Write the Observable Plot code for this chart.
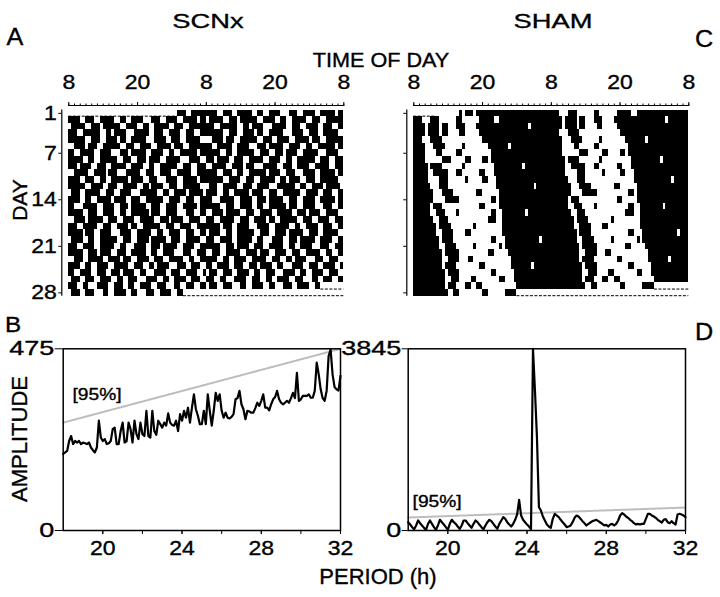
<!DOCTYPE html>
<html>
<head>
<meta charset="utf-8">
<script src="https://cdn.jsdelivr.net/npm/d3@7"></script>
<script src="https://cdn.jsdelivr.net/npm/@observablehq/plot@0.6"></script>
<style>
html,body{margin:0;padding:0;background:#fff;}
#fig{position:relative;width:720px;height:597px;overflow:hidden;font-family:"Liberation Sans",Arial,Helvetica,sans-serif;color:#000;background:#fff;}
#fig svg{position:absolute;left:0;top:0;}
#fig svg text{stroke:#000;stroke-width:0.35px;}
.lbl{position:absolute;white-space:nowrap;line-height:1;transform-origin:center center;-webkit-text-stroke:0.35px #000;}
</style>
</head>
<body>
<div id="fig"></div>
<script>
// ---------------- DATA ----------------
// Actogram tick labels (time of day, double plotted 48 h) and day labels
const timeTickHours = [0, 12, 24, 36, 48];
const timeTickLabels = ["8", "20", "8", "20", "8"];
const rulerHours = d3.range(0, 49, 1);
const dayTicks = [1, 7, 14, 21, 28];

// SCNx activity per day from 08:00, run lengths in half-hour bins:
// B = active, W = rest, N = no recording
const scnxRuns = [
  "N38 B3 W2 B5",
  "B4 W2 B3 W2 B5 W2 B2 W2 B4 W3 B3 W2 B4 W2 B5 W1 B2",
  "W1 B5 W2 B3 W1 B6 W2 B4 W2 B2 W2 B5 W2 B3 W2 B6",
  "B3 W2 B6 W2 B2 W1 B4 W3 B5 W2 B3 W2 B4 W2 B3 W2 B2",
  "B6 W2 B3 W2 B4 W1 B2 W2 B5 W3 B4 W2 B3 W2 B5 W2",
  "W2 B4 W1 B3 W2 B6 W2 B3 W2 B4 W2 B5 W1 B3 W2 B6",
  "B2 W2 B5 W2 B4 W3 B3 W1 B5 W2 B4 W2 B2 W2 B6 W1 B2",
  "B5 W2 B2 W2 B6 W2 B3 W2 B3 W1 B4 W2 B5 W3 B4 W2",
  "B3 W1 B4 W2 B3 W2 B5 W2 B4 W2 B2 W2 B6 W2 B3 W2 B3",
  "W2 B5 W2 B4 W1 B3 W3 B5 W2 B3 W2 B4 W2 B5 W2 B3",
  "B4 W2 B3 W2 B2 W2 B6 W1 B4 W2 B3 W3 B4 W2 B5 W1 B2",
  "B6 W2 B4 W2 B3 W2 B5 W2 B2 W1 B4 W2 B3 W2 B6 W2",
  "W1 B3 W2 B5 W2 B3 W2 B4 W3 B6 W2 B2 W2 B4 W1 B5 W1",
  "B4 W2 B2 W2 B5 W1 B4 W2 B3 W2 B6 W2 B4 W2 B3 W2 B2",
  "B2 W3 B5 W2 B4 W2 B3 W1 B5 W2 B3 W2 B4 W2 B5 W1 B2",
  "B5 W2 B3 W2 B4 W2 B2 W2 B6 W1 B3 W2 B4 W3 B3 W2 B2",
  "W2 B4 W1 B5 W2 B3 W2 B4 W2 B5 W2 B3 W1 B4 W2 B4 W2",
  "B3 W2 B5 W2 B3 W2 B4 W1 B2 W2 B6 W2 B3 W2 B4 W2 B3",
  "B5 W1 B3 W2 B4 W3 B4 W2 B5 W2 B2 W2 B4 W2 B3 W2 B2",
  "W1 B4 W2 B2 W2 B6 W2 B3 W2 B4 W1 B5 W2 B3 W2 B5 W2",
  "B3 W2 B4 W2 B5 W2 B2 W3 B4 W2 B3 W1 B5 W2 B4 W2 B2",
  "B5 W2 B3 W1 B4 W2 B3 W2 B5 W2 B2 W2 B4 W3 B3 W2 B3",
  "W2 B3 W2 B5 W2 B4 W1 B3 W2 B4 W2 B3 W2 B5 W2 B2 W2 B2",
  "B4 W2 B2 W2 B4 W2 B5 W2 B3 W2 B2 W1 B4 W3 B3 W2 B3 W2",
  "B2 W2 B4 W2 B3 W2 B3 W1 B4 W2 B2 W3 B4 W2 B3 W2 B4 W2 B1",
  "W1 B3 W2 B3 W2 B4 W2 B2 W2 B3 W3 B4 W2 B2 W2 B4 W2 B3 W2",
  "B3 W2 B2 W3 B4 W2 B3 W2 B2 W2 B4 W2 B3 W3 B2 W2 B3 W2 B2",
  "W1 B3 W2 B3 W3 B2 W2 B4 W2 B2 W3 B3 W2 B4 W2 B2 N8"
];

// SHAM activity per day, 48 half-hour bins from 08:00. '#' active, '.' rest, '-' no recording
const shamDays = [
  "--------" + "........" + "#.###.##" + "########" + "########" + "########",
  "###...##" + "#......#" + "#......#" + "####..##" + "########" + "########",
  "####.###" + "#.##...#" + "##....##" + "########" + "########" + ".#######",
  "####.###" + "#.##...." + "##.....#" + "########" + "########" + "########",
  "###...##" + "##......" + "........" + "########" + "########" + "########",
  "####...#" + "###....." + ".#......" + "..######" + "#.######" + "########",
  "####...." + "##.....#" + "#......." + "...#####" + "########" + "########",
  "####...." + "..###..." + "..##...." + "##.#####" + "########" + "########",
  "#####.##" + "##......" + ".#......" + "....####" + "######.#" + "########",
  "#####..#" + "####...#" + "#......#" + "#...####" + "########" + "########",
  "#####..." + ".###...." + "..#....." + "##...###" + "########" + "########",
  "######.." + ".###...." + "........" + ".....###" + "########" + "##.#####",
  "#######." + "..####.." + "......##" + "......##" + "########" + "########",
  "#######." + "...#####" + "........" + "...##.##" + "########" + "########",
  "######.#" + "##......" + ".......#" + "#.....##" + "########" + "########",
  "######.." + "###....#" + "........" + "...##..#" + "#######." + "########",
  "#######." + ".###...." + "........" + "..###..#" + "########" + "########",
  "########" + ".####..." + ".....#.." + ".......#" + "########" + "########",
  "########" + "..####.." + "..##...." + ".......#" + "########" + "########",
  "########" + "#.####.." + "........" + "...##..." + "########" + "####.###",
  "########" + "#..####." + ".....#.." + "......#." + "########" + "########",
  "########" + "##.#####" + "........" + "..##...." + ".#######" + "########",
  "########" + "##..####" + "...##..." + "........" + "..######" + "########",
  "########" + "##.####." + ".......#" + "#......." + "..######" + "#.######",
  "########" + "###.####" + "........" + "...##..." + "...#####" + "########",
  "########" + "###..###" + "....##.." + "......##" + "...#####" + "########",
  "########" + "###.###." + "..##..##" + "........" + "....####" + "########",
  "########" + "####..##" + "........" + "##......" + "####----" + "--------"
];
const binHours = 0.5;

// Periodograms: amplitude sampled every 0.1 h from 18 h to 32 h
const periodStart = 18, periodStep = 0.1;
const periodTicks = [20, 24, 28, 32];
const periodMinorTicks = [20, 22, 24, 26, 28, 30, 32];
const scnxAmplitude = [
  200,204,208,234,247,226,234,230,234,226,
  230,228,226,230,217,210,204,217,287,243,
  234,239,226,228,234,265,269,226,226,260,
  282,230,233,282,265,230,287,252,239,282,
  252,247,313,247,243,313,260,250,287,278,
  269,282,274,306,282,276,274,287,260,304,
  287,313,295,321,282,321,356,317,300,278,
  278,313,278,356,313,274,313,360,339,356,
  313,295,308,295,293,297,304,343,346,365,
  330,317,291,313,311,308,308,320,334,326,
  339,356,321,321,314,330,343,349,365,343,
  334,330,334,339,334,346,360,346,412,339,
  343,352,352,352,356,347,347,365,439,408,
  369,346,339,365,456,473,408,375,369,366,404
];
const shamAmplitude = [
  176,127,71,28,106,212,155,106,56,14,
  141,212,141,71,14,106,226,176,127,71,
  14,141,226,176,141,85,35,106,212,212,
  155,106,56,141,212,176,120,71,28,106,
  176,226,198,141,85,35,141,212,282,247,
  176,127,85,141,226,339,649,317,226,176,
  127,85,28,3845,2963,1975,494,423,296,212,
  127,85,56,247,353,317,282,226,176,127,
  71,85,106,176,268,317,296,247,198,155,
  106,141,169,198,212,226,198,169,141,106,
  120,85,127,141,106,141,212,317,367,339,
  296,268,226,198,155,127,141,127,141,141,
  247,353,353,317,296,268,226,198,169,226,
  240,176,155,198,155,127,339,353,339,317,282
];
const scnxMax = 475, shamMax = 3845;
const thresholdPeriods = [18, 32];
const scnxThreshold = [282, 475];
const shamThreshold = [275, 486];
const label95 = "[95%]";
const scnxLabel95 = {p: 18.47, a: 355};
const shamLabel95 = {p: 18.22, a: 614};

// ---------------- LAYOUT ----------------
const W = 720, H = 597;
const FONT = '"Liberation Sans", Arial, Helvetica, sans-serif';
const rulerRow = -0.68;
const NODATA = "-".repeat(48);
const runChar = {B: "#", W: ".", N: "-"};
const decodeRuns = s => s.trim().split(/\s+/).map(t => runChar[t[0]].repeat(+t.slice(1))).join("");
const scnxDays = scnxRuns.map(decodeRuns);

function stretch(svg, selector, sx) {
  svg.querySelectorAll(selector).forEach(t => {
    const tr = t.getAttribute("transform") || "";
    t.setAttribute("transform", tr + ` scale(${sx},1)`);
  });
}

function actogram(days, left, right, withLabels) {
  const bars = [], gaps = [];
  const norm = s => (s || NODATA).padEnd(48, ".").slice(0, 48);
  for (let r = 1; r <= 28; r++) {
    const s = norm(days[r - 1]) + norm(days[r]);
    let i = 0;
    while (i < s.length) {
      const c = s[i];
      let j = i;
      while (j < s.length && s[j] === c) j++;
      const seg = {row: r, x1: i * binHours, x2: j * binHours};
      if (c === "#") bars.push(seg);
      else if (c === "-") gaps.push(seg);
      i = j;
    }
  }
  const svg = Plot.plot({
    width: W, height: H,
    marginLeft: left, marginRight: W - right, marginTop: 105, marginBottom: H - 295.7,
    style: {fontFamily: FONT, fontSize: "20px", color: "black", background: "transparent", overflow: "visible"},
    x: {domain: [0, 48]},
    y: {domain: [28, rulerRow]},
    marks: [
      Plot.rect(bars, {x1: "x1", x2: "x2", y1: d => d.row - 1, y2: "row", fill: "black", shapeRendering: "crispEdges"}),
      Plot.ruleY(gaps, {y: "row", x1: "x1", x2: "x2", stroke: "black", strokeWidth: 1, strokeDasharray: "3,1.5", dy: -0.5}),
      Plot.ruleY([rulerRow], {stroke: "black", strokeWidth: 1}),
      Plot.axisX(rulerHours, {anchor: "top", tickSize: 2.5, tickFormat: () => "", label: null}),
      Plot.axisX(timeTickHours, {anchor: "top", tickSize: 4, tickPadding: 13, label: null,
        tickFormat: h => timeTickLabels[timeTickHours.indexOf(h)]}),
      Plot.ruleX([0], {y1: 0, y2: 28, dx: -7, stroke: "black", strokeWidth: 1.2}),
      Plot.axisY(dayTicks.map(d => d - 0.5), {anchor: "left", dx: -7, tickSize: 3, tickPadding: 2, label: null,
        tickFormat: v => withLabels ? String(dayTicks[dayTicks.indexOf(v + 0.5)]) : ""})
    ]
  });
  stretch(svg, "text", 1.15);
  return svg;
}

function periodogram(amps, yMax, thr, lab, left, right, ytick) {
  const data = amps.map((a, i) => ({p: periodStart + i * periodStep, a}));
  const thrData = thresholdPeriods.map((p, i) => ({p, a: thr[i]}));
  const svg = Plot.plot({
    width: W, height: H,
    marginLeft: left, marginRight: W - right, marginTop: 348.3, marginBottom: H - 530,
    style: {fontFamily: FONT, fontSize: "20px", color: "black", background: "transparent", overflow: "visible"},
    x: {domain: [18, 32]},
    y: {domain: [0, yMax]},
    marks: [
      Plot.line(thrData, {x: "p", y: "a", stroke: "#bdbdbd", strokeWidth: 2, strokeDasharray: "1.5,1"}),
      Plot.line(data, {x: "p", y: "a", stroke: "black", strokeWidth: 2.2, strokeLinejoin: "round"}),
      Plot.frame({stroke: "black", strokeWidth: 1.5}),
      Plot.text([lab], {x: () => lab.p, y: () => lab.a, text: () => label95, textAnchor: "start", fontSize: 16}),
      Plot.axisX(periodMinorTicks, {tickSize: 4, tickFormat: () => "", label: null}),
      Plot.axisX(periodTicks, {tickSize: 4, tickPadding: 6, label: null, tickFormat: d => String(d)}),
      Plot.axisY([0, yMax], {tickSize: ytick, tickPadding: 1, label: null, tickFormat: d => String(d)})
    ]
  });
  stretch(svg, 'g[aria-label="y-axis tick label"] text', 1.35);
  stretch(svg, 'g[aria-label="x-axis tick label"] text', 1.15);
  stretch(svg, 'g[aria-label="text"] text', 1.2);
  return svg;
}

const fig = document.getElementById("fig");
fig.appendChild(actogram(scnxDays, 68.3, 343.3, true));
fig.appendChild(actogram(shamDays, 413.3, 688.3, false));
fig.appendChild(periodogram(scnxAmplitude, scnxMax, scnxThreshold, scnxLabel95, 62.7, 340, 8));
fig.appendChild(periodogram(shamAmplitude, shamMax, shamThreshold, shamLabel95, 407.7, 685, 6));

const pageLabels = [
  {text: "SCNx", x: 207.5, y: 20, size: 21, sx: 1.3},
  {text: "SHAM", x: 552.5, y: 20, size: 21, sx: 1.3},
  {text: "A", x: 15, y: 36.5, size: 24, sx: 1.05},
  {text: "C", x: 703.5, y: 38.5, size: 24, sx: 1.05},
  {text: "B", x: 12.5, y: 325, size: 22, sx: 1.1},
  {text: "D", x: 704, y: 331.5, size: 24, sx: 1.05},
  {text: "TIME OF DAY", x: 381, y: 60, size: 20, sx: 1.08},
  {text: "DAY", x: 19, y: 200, size: 21, sx: 1.0, rot: -90},
  {text: "AMPLITUDE", x: 20, y: 439, size: 22, sx: 1.0, rot: -90},
  {text: "PERIOD (h)", x: 378, y: 577, size: 22, sx: 1.0}
];
for (const l of pageLabels) {
  const d = document.createElement("div");
  d.className = "lbl";
  d.textContent = l.text;
  d.style.left = l.x + "px";
  d.style.top = l.y + "px";
  d.style.fontSize = l.size + "px";
  d.style.transform = `translate(-50%,-50%) rotate(${l.rot || 0}deg) scaleX(${l.sx || 1})`;
  fig.appendChild(d);
}
</script>
</body>
</html>
